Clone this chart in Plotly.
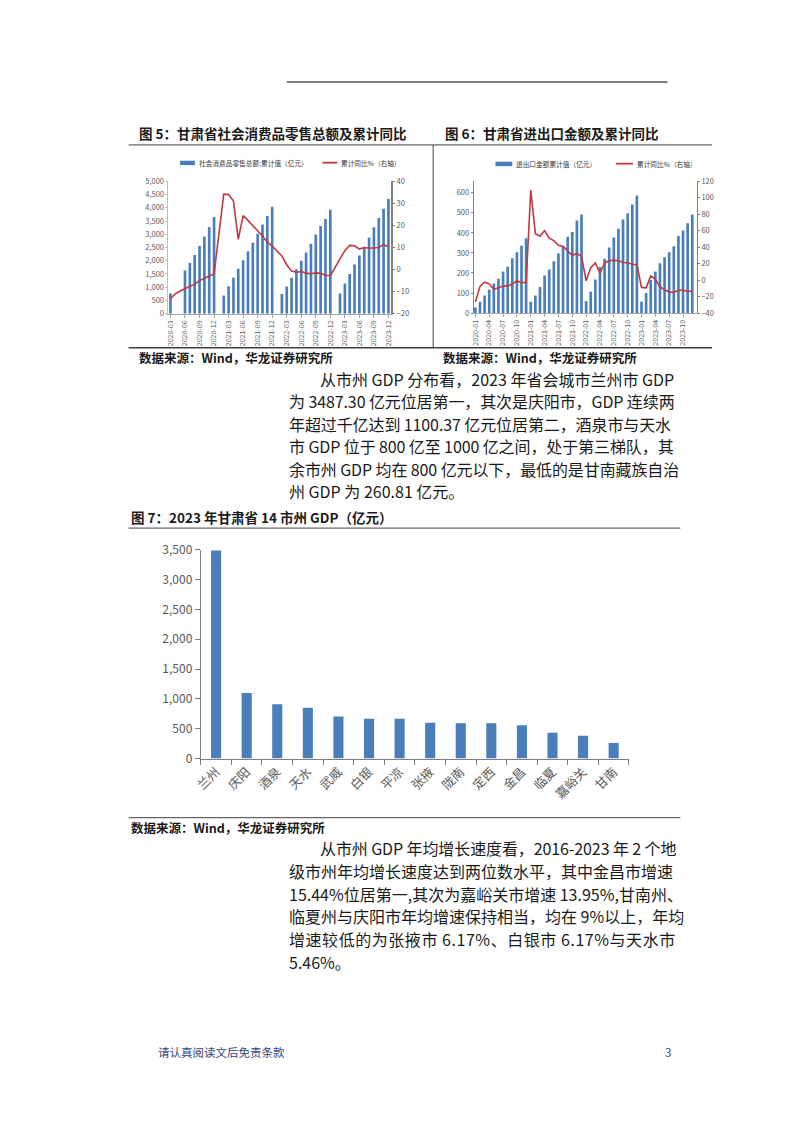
import plotly.graph_objects as go

W, H = 802, 1133


def px(x):
    return x / W


def py(y):
    return 1 - y / H


BLUE = "#4A7EBB"
RED = "#C0393B"
GRAY = "#595959"
FONT = "Noto Sans CJK SC"

# ---------------- Figure 5: retail sales ----------------
retail_months = [f"{y}-{m:02d}" for y in range(2020, 2024) for m in range(1, 13)][2:]
retail_ticks = ["2020-03", "2020-06", "2020-09", "2020-12", "2021-03", "2021-06", "2021-09", "2021-12",
                "2022-03", "2022-06", "2022-09", "2022-12", "2023-03", "2023-06", "2023-09", "2023-12"]
retail_value = [770, None, None, 1630, 1920, 2220, 2560, 2920, 3280, 3650,
                None, 683, 1040, 1360, 1700, 2020, 2360, 2680, 3020, 3370, 3690, 4040,
                None, 740, 1030, 1360, 1680, 2000, 2310, 2640, 2990, 3310, 3580, 3930,
                None, 760, 1140, 1500, 1860, 2200, 2530, 2880, 3270, 3620, 3970, 4330]
retail_yoy = [-13.1, -11.0, -9.7, -8.6, -7.6, -6.6, -5.0, -3.8, -2.9, -2.0,
              None, 34.2, 34.0, 31.2, 13.7, 24.5, 22.3, 20.0, 17.8, 15.2, 12.4, 10.6,
              None, 6.2, 2.2, -0.7, -1.2, -0.9, -1.6, -1.9, -1.5, -1.7, -2.6, -2.8,
              None, 5.2, 8.6, 11.0, 10.8, 9.3, 10.0, 9.7, 9.7, 10.0, 11.3, 10.4]

# ---------------- Figure 6: import & export ----------------
trade_months = [f"{y}-{m:02d}" for y in range(2020, 2024) for m in range(1, 13)]
trade_ticks = ["2020-01", "2020-04", "2020-07", "2020-10", "2021-01", "2021-04", "2021-07", "2021-10",
               "2022-01", "2022-04", "2022-07", "2022-10", "2023-01", "2023-04", "2023-07", "2023-10"]
trade_value = [28, 57, 88, 118, 147, 171, 207, 231, 274, 304, 336, 373,
               57, 88, 130, 188, 218, 258, 298, 330, 381, 405, 462, 492,
               60, 106, 167, 230, 271, 327, 377, 421, 467, 498, 542, 586,
               56, 100, 165, 207, 248, 279, 303, 333, 384, 412, 448, 492]
trade_yoy = [-26.5, -7.5, -2.5, -4.5, -11.2, -9.5, -7.2, -7.2, -4.8, -1.0, -3.0, -2.8,
             109.5, 56.5, 53.5, 60.3, 51.0, 48.0, 42.3, 41.2, 35.1, 30.0, 32.5, 29.0,
             -0.8, 15.3, 20.9, 8.4, 20.9, 23.6, 24.3, 23.6, 21.5, 21.2, 19.3, 18.7,
             -8.8, -9.3, 5.2, 1.2, -8.1, -11.7, -14.2, -15.0, -12.2, -12.2, -13.8, -13.0]

# ---------------- Figure 7: GDP by city ----------------
cities = ["兰州", "庆阳", "酒泉", "天水", "武威", "白银", "平凉", "张掖", "陇南", "定西", "金昌", "临夏", "嘉峪关", "甘南"]
gdp = [3487.30, 1100.37, 909, 854, 706, 668, 668, 602, 591, 591, 559, 433, 383, 260.81]

fig = go.Figure()

fig.add_trace(go.Bar(x=retail_months, y=retail_value, name="社会消费品零售总额:累计值（亿元）",
                     marker=dict(color=BLUE, line=dict(width=0)), width=0.55,
                     xaxis="x", yaxis="y", showlegend=False))
fig.add_trace(go.Scatter(x=retail_months, y=retail_yoy, name="累计同比%（右轴）", mode="lines",
                         line=dict(color=RED, width=1.6), connectgaps=True,
                         xaxis="x", yaxis="y2", showlegend=False))

fig.add_trace(go.Bar(x=trade_months, y=trade_value, name="进出口金额累计值（亿元）",
                     marker=dict(color=BLUE, line=dict(width=0)), width=0.58,
                     xaxis="x2", yaxis="y3", showlegend=False))
fig.add_trace(go.Scatter(x=trade_months, y=trade_yoy, name="累计同比%（右轴）", mode="lines",
                         line=dict(color=RED, width=1.6),
                         xaxis="x2", yaxis="y4", showlegend=False))

fig.add_trace(go.Bar(x=cities, y=gdp, name="GDP（亿元）",
                     marker=dict(color=BLUE, line=dict(width=0)), width=0.33,
                     xaxis="x3", yaxis="y5", showlegend=False))

small_tick = dict(size=7.5, color=GRAY, family=FONT)

fig.update_layout(
    width=W, height=H,
    margin=dict(l=0, r=0, t=0, b=0),
    paper_bgcolor="white", plot_bgcolor="rgba(0,0,0,0)",
    font=dict(family=FONT, color="#1a1a1a"),
    showlegend=False,
    xaxis=dict(domain=[px(162.3), px(387.7)], anchor="y", type="category",
               range=[-0.41, 45.6], tickmode="array", tickvals=retail_ticks, ticktext=retail_ticks,
               tickangle=-90, tickfont=dict(size=7, color=GRAY, family=FONT), showline=True,
               linecolor="#a6a6a6", linewidth=1,
               ticks="outside", ticklen=3, tickcolor="#a6a6a6", showgrid=False, zeroline=False),
    yaxis=dict(domain=[py(308.3), py(174)], anchor="x", range=[0, 5000], dtick=500, tickformat=",",
               tickfont=small_tick, showline=True, linecolor="#bfbfbf", linewidth=1,
               ticks="outside", ticklen=2, tickcolor="#bfbfbf", showgrid=False, zeroline=False),
    yaxis2=dict(overlaying="y", side="right", anchor="x", range=[-20, 40], dtick=10,
                tickfont=small_tick, showline=True, linecolor="#808080", linewidth=1.5,
                ticks="outside", ticklen=2, tickcolor="#808080", showgrid=False, zeroline=False),
    xaxis2=dict(domain=[px(471), px(696.7)], anchor="y3", type="category",
                range=[-0.36, 48.0], tickmode="array", tickvals=trade_ticks, ticktext=trade_ticks,
                tickangle=-90, tickfont=dict(size=7, color=GRAY, family=FONT), showline=True,
                linecolor="#a6a6a6", linewidth=1,
                ticks="outside", ticklen=3, tickcolor="#a6a6a6", showgrid=False, zeroline=False),
    yaxis3=dict(domain=[py(307.7), py(174)], anchor="x2", range=[0, 657], dtick=100,
                tickfont=small_tick, showline=True, linecolor="#808080", linewidth=1,
                ticks="outside", ticklen=2, tickcolor="#808080", showgrid=False, zeroline=False),
    yaxis4=dict(overlaying="y3", side="right", anchor="x2", range=[-40, 120], dtick=20,
                tickfont=small_tick, showline=True, linecolor="#808080", linewidth=1,
                ticks="outside", ticklen=2, tickcolor="#808080", showgrid=False, zeroline=False),
    xaxis3=dict(domain=[px(195), px(628)], anchor="y5", type="category", range=[-0.5, 13.5],
                tickangle=-45, tickfont=dict(size=12.5, color=GRAY, family=FONT),
                showline=True, linecolor="#7f7f7f", linewidth=1.2, ticks="outside", ticklen=5,
                tickson="boundaries", tickcolor="#7f7f7f", showgrid=False, zeroline=False),
    yaxis5=dict(domain=[py(760), py(548)], anchor="x3", range=[0, 3500], dtick=500, tickformat=",",
                tickfont=dict(size=12, color=GRAY, family=FONT), showline=True, linecolor="#7f7f7f",
                linewidth=1.2, ticks="outside", ticklen=5, tickcolor="#7f7f7f",
                showgrid=False, zeroline=False),
)

shapes = []


def hline(x0, x1, y, color="#404040", width=1):
    shapes.append(dict(type="line", xref="paper", yref="paper", x0=px(x0), x1=px(x1),
                       y0=py(y), y1=py(y), line=dict(color=color, width=width)))


def vline(x, y0, y1, color="#404040", width=1):
    shapes.append(dict(type="line", xref="paper", yref="paper", x0=px(x), x1=px(x),
                       y0=py(y0), y1=py(y1), line=dict(color=color, width=width)))


hline(282, 667, 73, "#7f7f7f", 2)
hline(122, 712, 137, "#404040", 1)
vline(430, 137, 343, "#404040", 1)
hline(122, 712, 343, "#404040", 1.5)
hline(122, 680, 526, "#404040", 1)
hline(122, 680, 820, "#404040", 1)

# manual legends
shapes.append(dict(type="rect", xref="paper", yref="paper", x0=px(174), x1=px(189),
                   y0=py(157.5), y1=py(153), fillcolor=BLUE, line=dict(width=0)))
hline(318, 333, 155, RED, 1.8)
shapes.append(dict(type="rect", xref="paper", yref="paper", x0=px(493), x1=px(510),
                   y0=py(158.5), y1=py(154), fillcolor=BLUE, line=dict(width=0)))
hline(615, 632, 156, RED, 1.8)

annotations = []


def text(x, y, s, size, bold=False, color="#1a1a1a", anchor="left", spacing=0):
    if spacing:
        s = f'<span style="letter-spacing:{spacing}px">{s}</span>'
    if bold:
        s = f"<b>{s}</b>"
    annotations.append(dict(xref="paper", yref="paper", x=px(x), y=py(y), text=s,
                            showarrow=False, xanchor=anchor, yanchor="middle",
                            font=dict(size=size, color=color, family=FONT)))


text(130, 125, "图 5：甘肃省社会消费品零售总额及累计同比", 13.5, True)
text(440, 125, "图 6：甘肃省进出口金额及累计同比", 13.5, True)
text(191, 155, "社会消费品零售总额:累计值（亿元）", 6.7, color="#333333")
text(335, 155, "累计同比%（右轴）", 6.7, color="#333333")
text(512, 156, "进出口金额累计值（亿元）", 6.7, color="#333333")
text(634, 156, "累计同比%（右轴）", 6.7, color="#333333")
text(130, 353, "数据来源：Wind，华龙证券研究所", 12.5, True)
text(438, 353, "数据来源：Wind，华龙证券研究所", 12.5, True)

para1 = ["从市州 GDP 分布看，2023 年省会城市兰州市 GDP",
         "为 3487.30 亿元位居第一，其次是庆阳市，GDP 连续两",
         "年超过千亿达到 1100.37 亿元位居第二，酒泉市与天水",
         "市 GDP 位于 800 亿至 1000 亿之间，处于第三梯队，其",
         "余市州 GDP 均在 800 亿元以下，最低的是甘南藏族自治",
         "州 GDP 为 260.81 亿元。"]
para1_spacing = [0, -0.1, -0.1, -0.1, -0.1, 0]
for i, s in enumerate(para1):
    text(314 if i == 0 else 282, 374.5 + 22.8 * i, s, 16, spacing=para1_spacing[i])

text(122, 515, "图 7：2023 年甘肃省 14 市州 GDP（亿元）", 13.5, True)
text(122, 830, "数据来源：Wind，华龙证券研究所", 12.5, True)

para2 = ["从市州 GDP 年均增长速度看，2016-2023 年 2 个地",
         "级市州年均增长速度达到两位数水平，其中金昌市增速",
         "15.44%位居第一,其次为嘉峪关市增速 13.95%,甘南州、",
         "临夏州与庆阳市年均增速保持相当，均在 9%以上，年均",
         "增速较低的为张掖市 6.17%、白银市 6.17%与天水市",
         "5.46%。"]
para2_spacing = [-0.1, 0, 0, 0, 0.55, 0]
for i, s in enumerate(para2):
    text(314 if i == 0 else 282, 851 + 23 * i, s, 16, spacing=para2_spacing[i])

text(150, 1058, "请认真阅读文后免责条款", 11.5, color="#34447a")
text(662, 1058, "3", 11.5, color="#34447a")

fig.update_layout(shapes=shapes, annotations=annotations)
fig.write_html("out.html")
